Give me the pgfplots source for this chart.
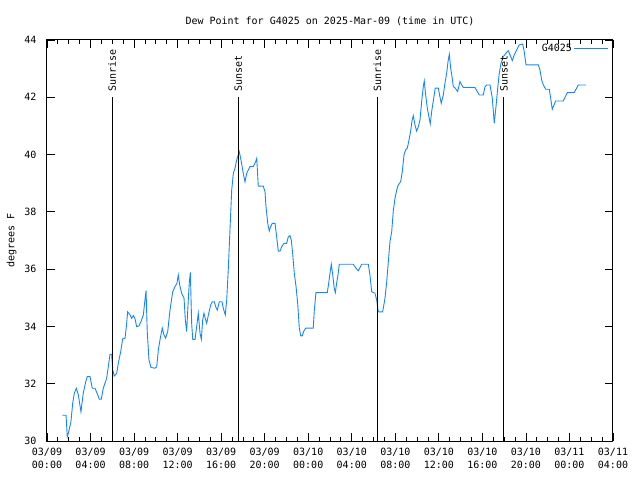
\documentclass[border=0pt]{standalone}
\usepackage{pgfplots}
\pgfplotsset{compat=1.18}
\usepackage{fontspec}
\setmainfont{DejaVu Sans Mono}
\definecolor{dewblue}{RGB}{20,135,255}
\begin{document}
\fontsize{10bp}{12bp}\selectfont
\begin{tikzpicture}
\path[use as bounding box] (-47bp,-39bp) rectangle (593bp,441bp);
\begin{axis}[
  at={(0,0)}, anchor=south west,
  scale only axis, width=566bp, height=401bp,
  xmin=0, xmax=52, ymin=30, ymax=44,
  xtick={0,4,...,52},
  xticklabels={03/09\\00:00,03/09\\04:00,03/09\\08:00,03/09\\12:00,03/09\\16:00,03/09\\20:00,03/10\\00:00,03/10\\04:00,03/10\\08:00,03/10\\12:00,03/10\\16:00,03/10\\20:00,03/11\\00:00,03/11\\04:00},
  xticklabel style={align=center, font=\fontsize{10bp}{12.5bp}\selectfont, yshift=-4bp},
  ytick={30,32,...,44},
  yticklabel style={font=\fontsize{10bp}{12bp}\selectfont, xshift=-7bp},
  /pgf/number format/assume math mode=true,
  minor x tick num=3,
  xtick pos=both, ytick pos=both,
  tick align=inside,
  major tick length=8bp, minor tick length=4bp,
  every tick/.style={black, line width=0.8bp},
  axis line style={black, line width=1bp},
  title={Dew Point for G4025 on 2025-Mar-09 (time in UTC)},
  title style={font=\fontsize{10bp}{12bp}\selectfont, yshift=5bp},
  ylabel={degrees F},
  ylabel style={font=\fontsize{10bp}{12bp}\selectfont, yshift=1bp},
  legend plot pos=right,
  legend style={at={(1,1)}, anchor=north east, draw=none, fill=none,
    font=\fontsize{10bp}{12bp}\selectfont, inner sep=1bp, xshift=-3bp, yshift=-1bp},
  legend image code/.code={\path (0bp,0bp) -- (34bp,0bp); \draw[#1] (6bp,0bp) -- (34bp,0bp);},
  clip=true,
]
\addplot[color=dewblue, line width=0.9bp] coordinates {
(1.41,30.90) (1.75,30.90) (1.86,30.15) (1.96,30.27) (2.20,30.67) (2.36,31.32)
(2.51,31.67) (2.69,31.84) (2.88,31.61) (3.12,31.02) (3.33,31.67) (3.56,32.07)
(3.70,32.25) (3.95,32.25) (4.16,31.84) (4.41,31.84) (4.66,31.61) (4.80,31.46)
(4.99,31.46) (5.17,31.84) (5.48,32.19) (5.63,32.59) (5.79,33.03) (5.94,33.03)
(6.04,32.48) (6.18,32.27) (6.40,32.36) (6.55,32.71) (6.77,33.12) (6.95,33.56)
(7.17,33.59) (7.29,33.99) (7.41,34.51) (7.63,34.40) (7.78,34.28) (7.93,34.38)
(8.08,34.28) (8.24,33.99) (8.45,34.02) (8.64,34.17) (8.85,34.40) (9.00,34.92)
(9.10,35.25) (9.21,33.82) (9.37,32.83) (9.55,32.57) (9.92,32.54) (10.08,32.59)
(10.23,33.18) (10.38,33.53) (10.59,33.94) (10.75,33.70) (10.90,33.59) (11.09,33.82)
(11.30,34.57) (11.55,35.21) (11.76,35.39) (11.94,35.51) (12.06,35.80) (12.19,35.45)
(12.37,35.16) (12.59,34.98) (12.71,34.22) (12.83,33.82) (12.98,34.92) (13.07,35.51)
(13.17,35.89) (13.29,34.11) (13.39,33.55) (13.60,33.55) (13.75,33.99) (13.90,34.46)
(14.06,33.76) (14.18,33.55) (14.30,34.22) (14.42,34.46) (14.54,34.28) (14.67,34.11)
(14.86,34.46) (15.04,34.75) (15.19,34.86) (15.37,34.86) (15.50,34.69) (15.65,34.57)
(15.83,34.86) (16.08,34.86) (16.20,34.63) (16.38,34.40) (16.51,34.92) (16.66,36.03)
(16.81,37.37) (16.97,38.76) (17.12,39.35) (17.27,39.52) (17.43,39.81) (17.57,39.99)
(17.67,40.10) (17.82,39.81) (18.03,39.35) (18.19,39.05) (18.35,39.35) (18.49,39.46)
(18.65,39.58) (18.95,39.58) (19.17,39.75) (19.27,39.87) (19.41,38.90) (19.87,38.90)
(20.03,38.70) (20.12,38.18) (20.28,37.60) (20.42,37.33) (20.55,37.48) (20.70,37.60)
(20.95,37.60) (21.10,37.13) (21.25,36.63) (21.41,36.63) (21.56,36.78) (21.77,36.90)
(22.02,36.90) (22.17,37.13) (22.32,37.17) (22.44,37.02) (22.57,36.55) (22.72,35.86)
(22.88,35.39) (23.03,34.81) (23.18,33.94) (23.31,33.67) (23.45,33.67) (23.61,33.85)
(23.77,33.94) (24.46,33.94) (24.56,34.57) (24.71,35.18) (25.75,35.18) (25.88,35.51)
(26.00,35.86) (26.12,36.17) (26.25,35.80) (26.39,35.33) (26.49,35.18) (26.61,35.51)
(26.76,35.86) (26.85,36.17) (28.14,36.17) (28.39,36.03) (28.60,35.94) (28.91,36.17)
(29.52,36.17) (29.67,35.80) (29.83,35.21) (30.13,35.16) (30.29,34.92) (30.44,34.51)
(30.84,34.51) (31.05,34.98) (31.21,35.56) (31.36,36.26) (31.51,36.96) (31.67,37.31)
(31.81,38.01) (31.97,38.47) (32.13,38.76) (32.27,38.94) (32.49,39.05) (32.64,39.40)
(32.80,39.99) (32.95,40.16) (33.10,40.22) (33.26,40.51) (33.41,40.82) (33.53,41.17)
(33.65,41.36) (33.81,41.03) (33.96,40.82) (34.11,40.97) (34.27,41.21) (34.42,41.85)
(34.57,42.37) (34.66,42.57) (34.79,42.08) (34.94,41.62) (35.09,41.32) (35.21,41.07)
(35.34,41.50) (35.55,42.02) (35.67,42.32) (35.95,42.32) (36.10,42.02) (36.22,41.79)
(36.41,42.08) (36.56,42.49) (36.72,42.84) (36.84,43.24) (36.96,43.50) (37.09,43.01)
(37.21,42.72) (37.33,42.37) (37.51,42.32) (37.73,42.20) (37.94,42.55) (38.10,42.43)
(38.25,42.34) (39.32,42.34) (39.53,42.20) (39.72,42.08) (40.08,42.08) (40.24,42.37)
(40.40,42.43) (40.70,42.43) (40.91,41.97) (41.00,41.56) (41.09,41.09) (41.25,41.67)
(41.41,42.32) (41.55,42.84) (41.71,43.19) (41.92,43.42) (42.17,43.54) (42.38,43.63)
(42.54,43.48) (42.75,43.28) (42.93,43.48) (43.15,43.65) (43.39,43.83) (43.70,43.86)
(43.82,43.65) (44.01,43.13) (45.14,43.13) (45.29,42.95) (45.45,42.60) (45.60,42.43)
(45.82,42.28) (46.15,42.28) (46.27,41.97) (46.42,41.58) (46.58,41.73) (46.73,41.87)
(47.43,41.87) (47.59,42.00) (47.80,42.16) (48.42,42.16) (48.60,42.28) (48.81,42.43)
(49.52,42.43)
};
\addlegendentry{G4025}
\addplot[black, line width=0.9bp, forget plot] coordinates {(5.99,30) (5.99,42)};
\addplot[black, line width=0.9bp, forget plot] coordinates {(17.57,30) (17.57,42)};
\addplot[black, line width=0.9bp, forget plot] coordinates {(30.35,30) (30.35,42)};
\addplot[black, line width=0.9bp, forget plot] coordinates {(41.98,30) (41.98,42)};
\node[rotate=90, anchor=west, inner sep=1bp, font=\fontsize{10bp}{12bp}\selectfont] at (axis cs:5.99,42.15) {Sunrise};
\node[rotate=90, anchor=west, inner sep=1bp, font=\fontsize{10bp}{12bp}\selectfont] at (axis cs:17.57,42.15) {Sunset};
\node[rotate=90, anchor=west, inner sep=1bp, font=\fontsize{10bp}{12bp}\selectfont] at (axis cs:30.35,42.15) {Sunrise};
\node[rotate=90, anchor=west, inner sep=1bp, font=\fontsize{10bp}{12bp}\selectfont] at (axis cs:41.98,42.15) {Sunset};
\end{axis}
\end{tikzpicture}
\end{document}
